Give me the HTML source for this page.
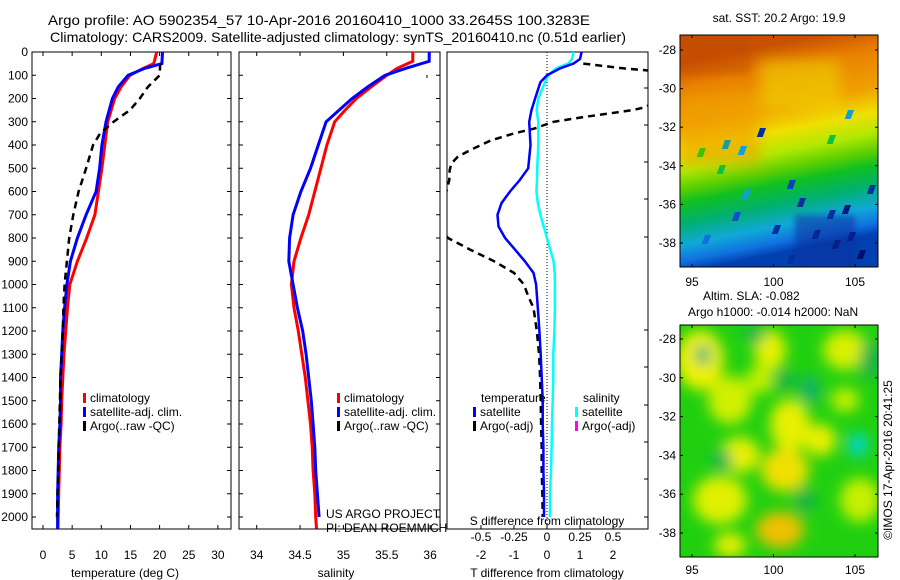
<!DOCTYPE html>
<html><head><meta charset="utf-8">
<style>
body{margin:0;background:#fff;}
svg{display:block;font-family:"Liberation Sans",sans-serif;}
text{fill:#000;}
</style></head>
<body>
<svg id="c" width="900" height="580" viewBox="0 0 900 580" xmlns="http://www.w3.org/2000/svg">
<defs>
<linearGradient id="sstg" x1="0" y1="0.12" x2="0.15" y2="1" >
<stop offset="0" stop-color="#c85000"/>
<stop offset="0.12" stop-color="#e88000"/>
<stop offset="0.3" stop-color="#f0a000"/>
<stop offset="0.42" stop-color="#f0e000"/>
<stop offset="0.52" stop-color="#b0e800"/>
<stop offset="0.6" stop-color="#60d000"/>
<stop offset="0.67" stop-color="#10c020"/>
<stop offset="0.77" stop-color="#00b070"/>
<stop offset="0.87" stop-color="#10a8d8"/>
<stop offset="0.95" stop-color="#1070e0"/>
<stop offset="1" stop-color="#0040b0"/>
</linearGradient>
<filter id="blur" x="-50%" y="-50%" width="200%" height="200%"><feGaussianBlur stdDeviation="7"/></filter>
<filter id="blur2" x="-50%" y="-50%" width="200%" height="200%"><feGaussianBlur stdDeviation="3"/></filter>
<clipPath id="clipT"><rect x="32" y="52" width="199" height="477"/></clipPath>
<clipPath id="clipS"><rect x="239" y="52" width="201" height="477"/></clipPath>
<clipPath id="clipD"><rect x="447" y="52" width="201" height="477"/></clipPath>
<clipPath id="clipM1"><rect x="680" y="35" width="198" height="232"/></clipPath>
<clipPath id="clipM2"><rect x="680" y="325" width="198" height="232"/></clipPath>
</defs>

<text x="48" y="25" font-size="14" textLength="542" lengthAdjust="spacingAndGlyphs">Argo profile: AO 5902354_57 10-Apr-2016 20160410_1000 33.2645S 100.3283E</text>
<text x="50" y="42" font-size="14" textLength="576" lengthAdjust="spacingAndGlyphs">Climatology: CARS2009. Satellite-adjusted climatology: synTS_20160410.nc (0.51d earlier)</text>

<g id="pT"></g>
<g id="pS"></g>
<text x="326" y="518" font-size="12">US ARGO PROJECT</text>
<text x="326" y="532" font-size="12">PI: DEAN ROEMMICH</text>
<g id="pD"></g>

<g>
<text x="779" y="22" font-size="12" text-anchor="middle">sat. SST: 20.2 Argo: 19.9</text>
<g clip-path="url(#clipM1)">
<rect x="680" y="35" width="198" height="232" fill="url(#sstg)"/>
<g id="sstNoise"></g>
</g>
<rect x="680" y="35" width="198" height="232" fill="none" stroke="#000" stroke-width="1"/>
</g>
<text x="703" y="300" font-size="12">Altim. SLA: -0.082</text>
<text x="688" y="316" font-size="12">Argo h1000: -0.014 h2000: NaN</text>

<g>
<g clip-path="url(#clipM2)">
<rect x="680" y="325" width="198" height="232" fill="#20d010"/>
<g filter="url(#blur)" id="slaBlobs"></g>
</g>
<rect x="680" y="325" width="198" height="232" fill="none" stroke="#000" stroke-width="1"/>
</g>
<g id="mapAxes"></g>
<text transform="translate(892,460) rotate(-90)" font-size="12" text-anchor="middle">©IMOS 17-Apr-2016 20:41:25</text>
</svg>

<script>
// ---- data ----
const depths = [0,50,70,100,150,200,300,400,500,600,700,800,900,1000,1100,1200,1300,1400,1500,1600,1700,1800,1900,2000,2050];
const tempClim = [19.5,19.0,17.2,14.9,13.4,12.3,11.1,10.6,10.1,9.5,8.9,7.5,5.9,4.6,4.2,3.9,3.6,3.4,3.2,3.1,2.9,2.8,2.7,2.6,2.55];
const tempSat  = [20.5,20.4,17.5,14.6,12.9,11.9,10.8,10.1,9.7,9.1,7.4,5.9,4.7,4.1,3.7,3.4,3.2,3.0,3.0,2.9,2.7,2.6,2.5,2.5,2.5];
const argoDepths = [50,100,150,200,250,300,350,400,500,600,700,800,900,1000,1100,1200,1300,1400,1500,1600,1700,1800,1900,2000];
const tempArgo = [20.1,20.0,18.0,16.6,14.9,12.1,9.8,8.6,7.4,6.1,5.2,4.5,4.1,3.7,3.5,3.4,3.2,3.0,2.9,2.8,2.7,2.6,2.5,2.4];
const salDepths = [0,40,70,100,150,200,250,300,400,500,600,700,800,900,1000,1100,1200,1300,1400,1500,1600,1700,1800,1900,2000,2050];
const salClim = [35.8,35.8,35.62,35.5,35.32,35.15,35.02,34.9,34.81,34.74,34.67,34.6,34.51,34.43,34.40,34.43,34.48,34.52,34.56,34.59,34.62,34.64,34.65,34.67,34.68,34.69];
const salSat  = [35.99,35.99,35.72,35.48,35.28,35.1,34.95,34.8,34.71,34.62,34.51,34.42,34.38,34.37,34.42,34.47,34.53,34.57,34.60,34.63,34.65,34.67,34.68,34.70,34.72];
const diffDepths = [0,30,50,70,100,130,200,250,300,400,500,550,600,650,700,750,800,850,900,950,1000,1100,1200,1300,1400,1500,1600,1700,1800,1900,2000];
const tDiffSat = [1.05,1.0,0.8,0.4,0.0,-0.2,-0.36,-0.47,-0.54,-0.5,-0.57,-0.82,-1.12,-1.38,-1.5,-1.47,-1.27,-0.97,-0.67,-0.41,-0.33,-0.28,-0.23,-0.19,-0.16,-0.13,-0.13,-0.11,-0.11,-0.09,-0.09];
const sDiffSat = [0.2,0.19,0.16,0.07,0.01,-0.015,-0.065,-0.079,-0.066,-0.066,-0.074,-0.076,-0.08,-0.07,-0.05,-0.025,0.0,0.025,0.05,0.058,0.06,0.06,0.056,0.048,0.048,0.043,0.038,0.035,0.03,0.023,0.023];
const argoDiffDepths = [50,70,80,100,150,200,240,250,280,300,330,350,380,420,450,480,510,550,600,700,800,850,900,950,1000,1050,1100,1200,1300,1400,1500,1600,1700,1800,1900,2000];
const tDiffArgo = [1.1,2.3,3.1,3.6,3.6,3.6,2.9,2.6,1.1,0.2,-0.4,-1.0,-1.7,-2.3,-2.7,-2.9,-2.95,-2.96,-3.05,-3.6,-3.0,-2.33,-1.6,-1.0,-0.7,-0.57,-0.41,-0.31,-0.24,-0.21,-0.19,-0.18,-0.16,-0.16,-0.14,-0.13];
const depthTicks = [0,100,200,300,400,500,600,700,800,900,1000,1100,1200,1300,1400,1500,1600,1700,1800,1900,2000];
const tTicks = [0,5,10,15,20,25,30];
const sTicks = [34,34.5,35,35.5,36];
const tdTicks = [-2,-1,0,1,2];
const sdTicks = [-0.5,-0.25,0,0.25,0.5];
const lonTicks = [95,100,105];
const latTicks = [-28,-30,-32,-34,-36,-38];

// ---- scales ----
const PT=52, PB=529;
const yD = d => 52 + d*0.2325;
const xT = t => 43 + t*5.83;
const xS = s => 256.7 + (s-34)*86.7;
const xTD = v => 547 + v*33;
const xSD = v => 547 + v*132;
const NS="http://www.w3.org/2000/svg";
function el(tag, attrs, parent){const e=document.createElementNS(NS,tag);for(const k in attrs)e.setAttribute(k,attrs[k]);parent.appendChild(e);return e;}
function txt(x,y,s,parent,anchor,size){const t=el('text',{x:x,y:y,'font-size':size||12,'text-anchor':anchor||'middle'},parent);t.textContent=s;return t;}
function pathD(xs,ys,fx){return xs.map((v,i)=>(i?'L':'M')+fx(v).toFixed(1)+','+yD(ys[i]).toFixed(1)).join('');}

function frame(g,x0,x1,name){
  const r=el('rect',{x:x0,y:PT,width:x1-x0,height:PB-PT,fill:'#fff',stroke:'#000','stroke-width':1},g);
  
  
}
function yTicks(g,x0,x1,labels){
  depthTicks.forEach(d=>{
    el('line',{x1:x0,y1:yD(d),x2:x0+4,y2:yD(d),stroke:'#000'},g);
    el('line',{x1:x1,y1:yD(d),x2:x1-4,y2:yD(d),stroke:'#000'},g);
    if(labels){const t=txt(28,yD(d)+4,String(d),g,'end');
      
      }
  });
}
function xTicksDraw(g,ticks,fx,labelY){
  ticks.forEach(v=>{
    el('line',{x1:fx(v),y1:PB,x2:fx(v),y2:PB-4,stroke:'#000'},g);
    el('line',{x1:fx(v),y1:PT,x2:fx(v),y2:PT+4,stroke:'#000'},g);
    const t=txt(fx(v),labelY,String(v),g);
    
    
  });
}
function line(g,d,color,w,dash,name,clip){
  const p=el('path',{d:d,fill:'none',stroke:color,'stroke-width':w,'clip-path':'url(#'+clip+')'},g);
  if(dash)p.setAttribute('stroke-dasharray',dash);
  
  
}
function legend(g,x,y,color,label,name){
  el('rect',{x:x,y:y-9,width:3,height:10,fill:color},g);
  const t=txt(x+7,y,label,g,'start');
  
  
}

const gT=document.getElementById('pT');
frame(gT,32,231,'temperature');
yTicks(gT,32,231,true);
xTicksDraw(gT,tTicks,xT,559);
txt(125,577,'temperature (deg C)',gT);
line(gT,pathD(tempClim,depths,xT),'#ff0000',3,null,'temp-climatology-line','clipT');
line(gT,pathD(tempSat,depths,xT),'#0000ff',3,null,'temp-satellite-line','clipT');
line(gT,pathD(tempArgo,argoDepths,xT),'#000',2.5,'7,5','temp-argo-line','clipT');
legend(gT,83,402,'#ff0000','climatology','legend-climatology');
legend(gT,83,416,'#0000ff','satellite-adj. clim.','legend-satellite');
legend(gT,83,430,'#000','Argo(..raw -QC)','legend-argo');

const gS=document.getElementById('pS');
frame(gS,239,440,'salinity');
yTicks(gS,239,440,false);
xTicksDraw(gS,sTicks,xS,559);
txt(336,577,'salinity',gS);
line(gS,pathD(salClim,salDepths,xS),'#ff0000',3,null,'sal-climatology-line','clipS');
line(gS,pathD(salSat,salDepths,xS),'#0000ff',3,null,'sal-satellite-line','clipS');
el('line',{x1:427,y1:75,x2:427,y2:78,stroke:'#000'},gS);
legend(gS,337,402,'#ff0000','climatology','legend-sal-climatology');
legend(gS,337,416,'#0000ff','satellite-adj. clim.','legend-sal-satellite');
legend(gS,337,430,'#000','Argo(..raw -QC)','legend-sal-argo');

const gD=document.getElementById('pD');
frame(gD,447,648,'difference');
[52,88,125,162,199,237,330,367,405,442,479,517].forEach(y=>el('line',{x1:648,y1:y,x2:644,y2:y,stroke:'#000'},gD));
tdTicks.forEach(v=>{el('line',{x1:xTD(v),y1:PB,x2:xTD(v),y2:PB-4,stroke:'#000'},gD);
  const t=txt(xTD(v),559,String(v),gD);});
sdTicks.forEach(v=>{const t=txt(xSD(v),541,String(v),gD);});
txt(547,525,'S difference from climatology',gD);
txt(547,577,'T difference from climatology',gD);
el('line',{x1:xTD(0),y1:PT,x2:xTD(0),y2:PB,stroke:'#000','stroke-dasharray':'1,2'},gD);
line(gD,pathD(tDiffArgo,argoDiffDepths,xTD),'#000',2.5,'7,5','tdiff-argo-line','clipD');
line(gD,pathD(sDiffSat,diffDepths,xSD),'#00ffff',2.5,null,'sdiff-satellite-line','clipD');
line(gD,pathD(tDiffSat,diffDepths,xTD),'#0000ff',2.5,null,'tdiff-satellite-line','clipD');
txt(481,402,'temperature',gD,'start');
txt(583,402,'salinity',gD,'start');
legend(gD,473,416,'#0000ff','satellite','legend-tdiff-satellite');
legend(gD,473,430,'#000','Argo(-adj)','legend-tdiff-argo');
legend(gD,575,416,'#00ffff','satellite','legend-sdiff-satellite');
legend(gD,575,430,'#ff00ff','Argo(-adj)','legend-sdiff-argo');

const gM=document.getElementById('mapAxes');
const mx = lon => 692 + (lon-95)*16.3;
[[50,243,35,267,286],[339,533,325,557,574]].forEach(([y28,y38,top,bot,ly])=>{
  const my = lat => y28 + (lat+28)/(-10)*(y38-y28);
  lonTicks.forEach(l=>{el('line',{x1:mx(l),y1:bot,x2:mx(l),y2:bot-3,stroke:'#000'},gM);el('line',{x1:mx(l),y1:top,x2:mx(l),y2:top+3,stroke:'#000'},gM);
    const t=txt(mx(l),ly,String(l),gM);});
  latTicks.forEach(l=>{el('line',{x1:680,y1:my(l),x2:683,y2:my(l),stroke:'#000'},gM);el('line',{x1:878,y1:my(l),x2:875,y2:my(l),stroke:'#000'},gM);
    const t=txt(676,my(l)+4,String(l),gM,'end');});
});

const sn=document.getElementById('sstNoise');
el('rect',{x:680,y:95,width:80,height:70,fill:'#f0a000',opacity:0.6,filter:'url(#blur)'},sn);
el('rect',{x:760,y:60,width:80,height:50,fill:'#f0e000',opacity:0.5,filter:'url(#blur)'},sn);
const patches=[[760,128,'#0030a0'],[725,140,'#10a0a0'],[741,146,'#10a0e0'],[790,180,'#1040c0'],[800,198,'#1030a0'],[830,210,'#0030a0'],[845,205,'#001880'],[815,230,'#001880'],[835,240,'#000c70'],[850,232,'#001080'],[860,250,'#000c70'],[775,225,'#0030a0'],[870,185,'#0030a0'],[700,148,'#40c000'],[720,165,'#10c040'],[830,135,'#10c040'],[848,110,'#10a0d0'],[745,190,'#10a0e0'],[790,255,'#0030a0'],[735,212,'#1050c0'],[705,235,'#1070e0']];
patches.forEach(([x,y,c])=>el('rect',{x:x,y:y,width:6,height:9,fill:c,transform:'skewX(-20)','transform-origin':x+' '+y},sn));
el('rect',{x:795,y:215,width:60,height:52,fill:'#0830a0',opacity:0.55,filter:'url(#blur2)'},sn);
el('rect',{x:680,y:35,width:70,height:40,fill:'#c04800',opacity:0.3,filter:'url(#blur2)'},sn);

const sb=document.getElementById('slaBlobs');
[[700,360,24,30,'#f0f000'],[790,425,20,26,'#e8f000'],[730,400,22,24,'#d0f000'],[780,530,24,18,'#f0c000'],[785,470,24,22,'#f0e000'],[720,500,27,24,'#e0f000'],[770,350,16,20,'#e8f000'],[845,350,22,20,'#d8f000'],[820,440,16,16,'#e8f000'],[740,455,20,18,'#e8f000'],[860,500,20,22,'#c8f000'],[730,545,16,12,'#e8f000'],[845,400,14,12,'#c8f000'],[760,380,14,14,'#c0f000'],
 [703,355,8,10,'#10b080'],[810,390,10,14,'#10b070'],[785,380,10,10,'#10b050'],[858,445,10,12,'#00d8d0'],[722,460,10,10,'#10b060'],[755,335,10,8,'#10b060'],[870,360,10,20,'#10b050'],[805,500,10,12,'#10b050']
].forEach(([x,y,rx,ry,c])=>el('ellipse',{cx:x,cy:y,rx:rx,ry:ry,fill:c},sb));
</script>
</body></html>
